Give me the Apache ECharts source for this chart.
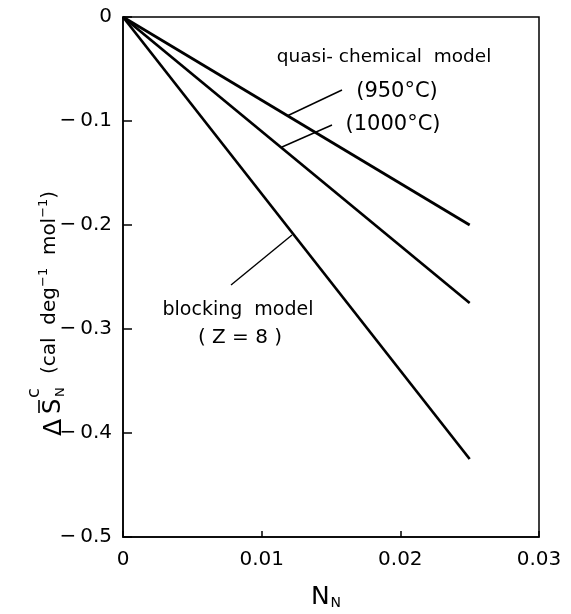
<!DOCTYPE html>
<html>
<head>
<meta charset="utf-8">
<script src="https://cdn.jsdelivr.net/npm/echarts@6/dist/echarts.min.js"></script>
<style>html,body{margin:0;padding:0;background:#fff;}#c{width:571px;height:614px;}</style>
</head>
<body>
<div id="c"></div>
<script>
// Data
const xTicks = [0, 0.01, 0.02, 0.03];
const yTicks = [0, -0.1, -0.2, -0.3, -0.4, -0.5];
const nN = [0, 0.025];
const quasi950 = [0, -0.200];
const quasi1000 = [0, -0.275];
const blocking = [0, -0.425];
const seriesNames = ['quasi-chemical model (950°C)', 'quasi-chemical model (1000°C)', 'blocking model (Z = 8)'];

const FONT = 'DejaVu Sans';
const chart = echarts.init(document.getElementById('c'), null, {renderer: 'canvas'});

function pairs(xs, ys) { return xs.map((x, i) => [x, ys[i]]); }
const lineStyle = {color: '#000', width: 2.7};
function mk(name, ys) {
  return {name, type: 'line', data: pairs(nN, ys), symbol: 'none', lineStyle, silent: true, animation: false};
}

const option = {
  backgroundColor: '#fff',
  animation: false,
  grid: {left: 123, top: 17, right: 32, bottom: 77, show: true, borderColor: '#000', borderWidth: 1.5, backgroundColor: 'transparent'},
  xAxis: {
    type: 'value', min: 0, max: 0.03, interval: 0.01,
    axisLine: {show: true, onZero: false, lineStyle: {color: '#000', width: 1.5}},
    axisTick: {show: true, inside: true, length: 6, lineStyle: {color: '#000', width: 1.5}},
    splitLine: {show: false},
    axisLabel: {color: '#000', fontFamily: FONT, fontSize: 20, margin: 13,
      formatter: v => { const i = xTicks.findIndex(t => Math.abs(t - v) < 1e-9); return i >= 0 ? (xTicks[i] === 0 ? '0' : xTicks[i].toFixed(2)) : ''; }}
  },
  yAxis: {
    type: 'value', min: -0.5, max: 0, interval: 0.1,
    axisLine: {show: true, onZero: false, lineStyle: {color: '#000', width: 1.5}},
    axisTick: {show: true, inside: true, length: 9, lineStyle: {color: '#000', width: 1.5}},
    splitLine: {show: false},
    axisLabel: {color: '#000', fontFamily: FONT, fontSize: 20, margin: 11,
      formatter: v => { const i = yTicks.findIndex(t => Math.abs(t - v) < 1e-9); if (i < 0) return ''; const t = yTicks[i]; return t === 0 ? '0' : '\u2212\u2009' + Math.abs(t).toFixed(1); }}
  },
  series: [mk(seriesNames[0], quasi950), mk(seriesNames[1], quasi1000), mk(seriesNames[2], blocking)],
  graphic: [
    // leader lines
    {type: 'line', shape: {x1: 287, y1: 116, x2: 342, y2: 90}, style: {stroke: '#000', lineWidth: 1.4}},
    {type: 'line', shape: {x1: 282, y1: 147, x2: 332, y2: 125}, style: {stroke: '#000', lineWidth: 1.4}},
    {type: 'line', shape: {x1: 231, y1: 285, x2: 292, y2: 235}, style: {stroke: '#000', lineWidth: 1.4}},
    // annotation texts
    {type: 'text', x: 384, y: 57, style: {text: 'quasi- chemical  model', font: '18.5px "DejaVu Sans"', fill: '#000', verticalAlign: 'middle', align: 'center'}},
    {type: 'text', x: 397, y: 92, style: {text: '(950°C)', font: '21px "DejaVu Sans"', fill: '#000', verticalAlign: 'middle', align: 'center'}},
    {type: 'text', x: 393, y: 125, style: {text: '(1000°C)', font: '21px "DejaVu Sans"', fill: '#000', verticalAlign: 'middle', align: 'center'}},
    {type: 'text', x: 238, y: 310, style: {text: 'blocking  model', font: '19px "DejaVu Sans"', fill: '#000', verticalAlign: 'middle', align: 'center'}},
    {type: 'text', x: 240, y: 338, style: {text: '( Z = 8 )', font: '20px "DejaVu Sans"', fill: '#000', verticalAlign: 'middle', align: 'center'}},
    // x axis name N_N
    {type: 'text', x: 326, y: 597, style: {
      text: '{a|N}{b|N}', fill: '#000', verticalAlign: 'middle', align: 'center',
      rich: {a: {fontFamily: FONT, fontSize: 25, fill: '#000'}, b: {fontFamily: FONT, fontSize: 14, fill: '#000', padding: [12, 0, 0, 1]}}
    }},
    // y axis title, rotated
    {type: 'group', x: 54, y: 436, rotation: Math.PI / 2, children: [
      {type: 'text', x: 0, y: 0, style: {text: 'Δ', font: '25px "DejaVu Sans"', fill: '#000', verticalAlign: 'middle', align: 'left'}},
      {type: 'text', x: 22, y: 0, style: {text: 'S', font: '24px "DejaVu Sans"', fill: '#000', verticalAlign: 'middle', align: 'left'}},
      {type: 'line', shape: {x1: 23, y1: -15, x2: 36, y2: -15}, style: {stroke: '#000', lineWidth: 1.6}},
      {type: 'text', x: 38, y: -20, style: {text: 'c', font: '18px "DejaVu Sans"', fill: '#000', verticalAlign: 'middle', align: 'left'}},
      {type: 'text', x: 39, y: 7, style: {text: 'N', font: '13px "DejaVu Sans"', fill: '#000', verticalAlign: 'middle', align: 'left'}},
      {type: 'text', x: 62, y: -4, style: {
        text: '(cal  deg{s|\u22121}  mol{s|\u22121})', fill: '#000', verticalAlign: 'middle', align: 'left',
        font: '20px "DejaVu Sans"',
        rich: {s: {fontFamily: FONT, fontSize: 13, fill: '#000', padding: [0, 0, 13, 0]}}
      }}
    ]}
  ]
};
chart.setOption(option);
</script>
</body>
</html>
